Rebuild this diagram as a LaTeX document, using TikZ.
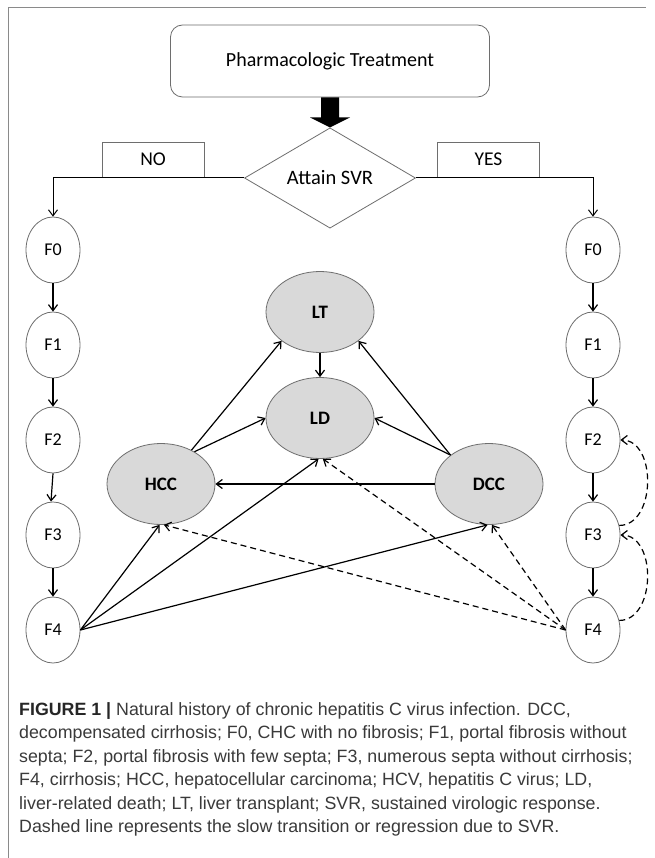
\documentclass[tikz,border=0pt]{standalone}
\usepackage{fontspec}
\setmainfont{Carlito}
\newfontfamily\capfont{Liberation Sans}
\usetikzlibrary{shapes.geometric,arrows.meta,calc}
\definecolor{ellfill}{HTML}{D9D9D9}
\definecolor{ellline}{HTML}{6E6E6E}
\definecolor{framec}{HTML}{8A8A8A}
\definecolor{captext}{HTML}{3A3A3A}
\begin{document}
\begin{tikzpicture}[x=1pt,y=-1pt,
  fstate/.style={ellipse,draw=ellline,line width=0.8pt,minimum width=54pt,minimum height=66pt,inner sep=0pt,font=\fontsize{18}{18}\selectfont},
  outcome/.style={ellipse,draw=ellline,fill=ellfill,line width=0.8pt,minimum width=108pt,minimum height=81pt,inner sep=0pt,font=\fontsize{19}{19}\selectfont\bfseries},
  arr/.style={-{Straight Barb[length=6pt,width=9pt]},line width=1.2pt},
  darr/.style={arr,dash pattern=on 6pt off 4pt},
  lblbox/.style={draw=ellline,line width=0.8pt,minimum width=102pt,minimum height=35pt,inner sep=0pt,font=\fontsize{19.5}{19.5}\selectfont}]
\useasboundingbox (0,0) rectangle (654,858);
\fill[white] (0,0) rectangle (654,858);
\draw[framec,line width=1pt] (8,858) -- (8,8) -- (646,8);

% top
\node[draw=ellline,line width=0.8pt,rounded corners=12pt,minimum width=319pt,minimum height=72pt,inner sep=0pt,font=\fontsize{20}{20}\selectfont] (treat) at (330,61) {Pharmacologic Treatment};
\node[diamond,draw=ellline,line width=0.8pt,minimum width=171pt,minimum height=75pt,inner sep=0pt,font=\fontsize{20.5}{20.5}\selectfont] (svr) at (330,178) {Attain SVR};
\fill[black] ($(treat.south)+(-9,0)$) -- ++(0,20) -- ++(-11,0) -- (svr.north) -- ($(treat.south)+(20,20)$) -- ++(-11,0) -- ++(0,-20) -- cycle;
\node[lblbox] (no) at (153,159.5) {NO};
\node[lblbox] (yes) at (488.5,159.5) {YES};

% fibrosis stages
\node[fstate] (L0) at (53,250) {F0};
\node[fstate] (L1) at (53,345) {F1};
\node[fstate] (L2) at (53,440) {F2};
\node[fstate] (L3) at (53,535) {F3};
\node[fstate] (L4) at (53,630) {F4};
\node[fstate] (R0) at (593,250) {F0};
\node[fstate] (R1) at (593,345) {F1};
\node[fstate] (R2) at (593,440) {F2};
\node[fstate] (R3) at (593,535) {F3};
\node[fstate] (R4) at (593,630) {F4};

% outcomes
\node[outcome] (LT) at (320,312) {LT};
\node[outcome] (LD) at (320,418) {LD};
\node[outcome] (HCC) at (161,484) {HCC};
\node[outcome] (DCC) at (489,484) {DCC};

% branch lines
\draw[arr,line width=1pt] (svr.west) -| (L0.north);
\draw[arr,line width=1pt] (svr.east) -| (R0.north);

% chains
\draw[arr] (L0) -- (L1);
\draw[arr] (L1) -- (L2);
\draw[arr] (L2.south) -- ([xshift=-2pt]L3.north);
\draw[arr] (L3) -- (L4);
\draw[arr] (R0) -- (R1);
\draw[arr] (R1) -- (R2);
\draw[arr] (R2) -- (R3);
\draw[arr] (R3) -- (R4);

% outcome transitions
\draw[arr] (LT) -- (LD);
\draw[arr] (HCC.48) -- (LT.south west);
\draw[arr] (HCC.44) -- (LD.west);
\draw[arr] (DCC.north west) -- (LT.south east);
\draw[arr] (DCC.north west) -- (LD.east);
\draw[arr] (DCC.west) -- (HCC.east);
\draw[arr] (L4.east) -- (HCC.-92);
\draw[arr] (L4.east) -- (LD.-92);
\draw[arr] (L4.east) -- (DCC.-92);

% slow transitions / regression
\draw[darr] (R4.west) -- (HCC.-86);
\draw[darr] (R4.west) -- (LD.-86);
\draw[darr] (R4.west) -- (DCC.-86);
\draw[darr] (R3.20) to[out=0,in=0,looseness=1.1] (R2.east);
\draw[darr] (R4.20) to[out=0,in=0,looseness=1.1] (R3.east);

% caption
\node[anchor=north west,align=left,inner sep=0pt,text=captext,font=\capfont\fontsize{17.8}{23.5}\selectfont] (cap) at (19,702)
{{\bfseries\color{black!85}FIGURE 1 |} Natural history of chronic hepatitis C virus infection. DCC,\\
decompensated cirrhosis; F0, CHC with no fibrosis; F1, portal fibrosis without\\
septa; F2, portal fibrosis with few septa; F3, numerous septa without cirrhosis;\\
F4, cirrhosis; HCC, hepatocellular carcinoma; HCV, hepatitis C virus; LD,\\
liver-related death; LT, liver transplant; SVR, sustained virologic response.\\
Dashed line represents the slow transition or regression due to SVR.};
\end{tikzpicture}
\end{document}
